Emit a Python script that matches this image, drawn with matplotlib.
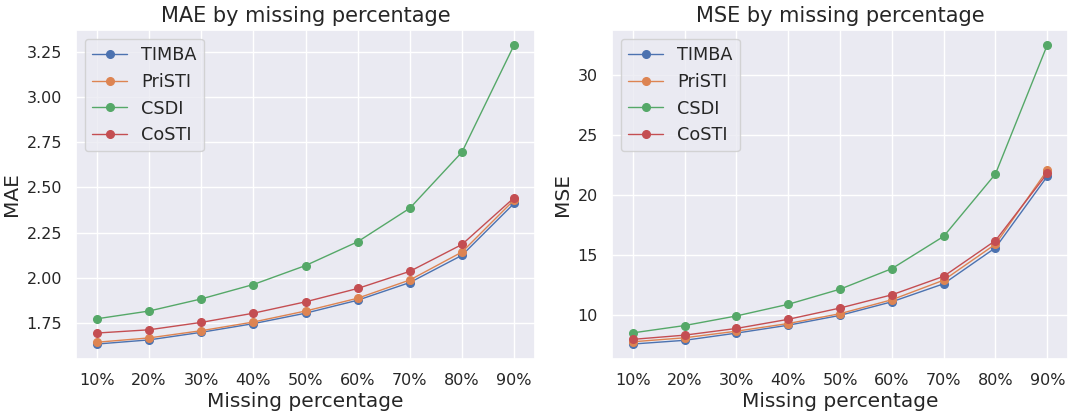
import matplotlib
matplotlib.use("Agg")
import matplotlib.pyplot as plt
import seaborn as sns

sns.set_theme(style="darkgrid")
plt.rcParams['font.family'] = ['DejaVu Sans']

percent_labels = ["10%", "20%", "30%", "40%", "50%", "60%", "70%", "80%", "90%"]
methods = ["TIMBA", "PriSTI", "CSDI", "CoSTI"]

mae_timba = [1.632, 1.655, 1.697, 1.745, 1.803, 1.875, 1.973, 2.124, 2.412]
mae_pristi = [1.642, 1.666, 1.706, 1.754, 1.815, 1.886, 1.987, 2.142, 2.431]
mae_csdi = [1.772, 1.815, 1.882, 1.962, 2.067, 2.199, 2.385, 2.696, 3.290]
mae_costi = [1.693, 1.711, 1.752, 1.803, 1.866, 1.940, 2.035, 2.184, 2.443]

mse_timba = [7.58, 7.89, 8.49, 9.15, 9.97, 11.10, 12.60, 15.60, 21.55]
mse_pristi = [7.77, 8.10, 8.65, 9.29, 10.11, 11.27, 12.90, 15.90, 22.07]
mse_csdi = [8.51, 9.12, 9.92, 10.89, 12.15, 13.86, 16.55, 21.75, 32.50]
mse_costi = [7.97, 8.32, 8.88, 9.64, 10.58, 11.68, 13.22, 16.20, 21.80]

colors = sns.color_palette("deep")[:4]

fig = plt.figure(figsize=(10.68, 4.12), dpi=100)
ax1 = fig.add_axes([76/1068, 1-359/412, 459/1068, 329/412])
ax2 = fig.add_axes([612/1068, 1-359/412, 456/1068, 329/412])

x = list(range(len(percent_labels)))

def draw(ax, series, title, ylabel):
    for name, vals, c in zip(methods, series, colors):
        ax.plot(x, vals, marker="o", markersize=5.5, linewidth=1, color=c, label=name)
    ax.set_xticks(x)
    ax.set_xticklabels(percent_labels)
    ax.tick_params(axis="both", labelsize=11.5, pad=4)
    ax.set_title(title, fontsize=15)
    ax.set_xlabel("Missing percentage", fontsize=14.5, labelpad=3)
    ax.set_ylabel(ylabel, fontsize=14.5)
    ax.legend(loc="upper left", fontsize=12.7)

draw(ax1, [mae_timba, mae_pristi, mae_csdi, mae_costi], "MAE by missing percentage", "MAE")
draw(ax2, [mse_timba, mse_pristi, mse_csdi, mse_costi], "MSE by missing percentage", "MSE")

fig.savefig("out.png", dpi=100)
